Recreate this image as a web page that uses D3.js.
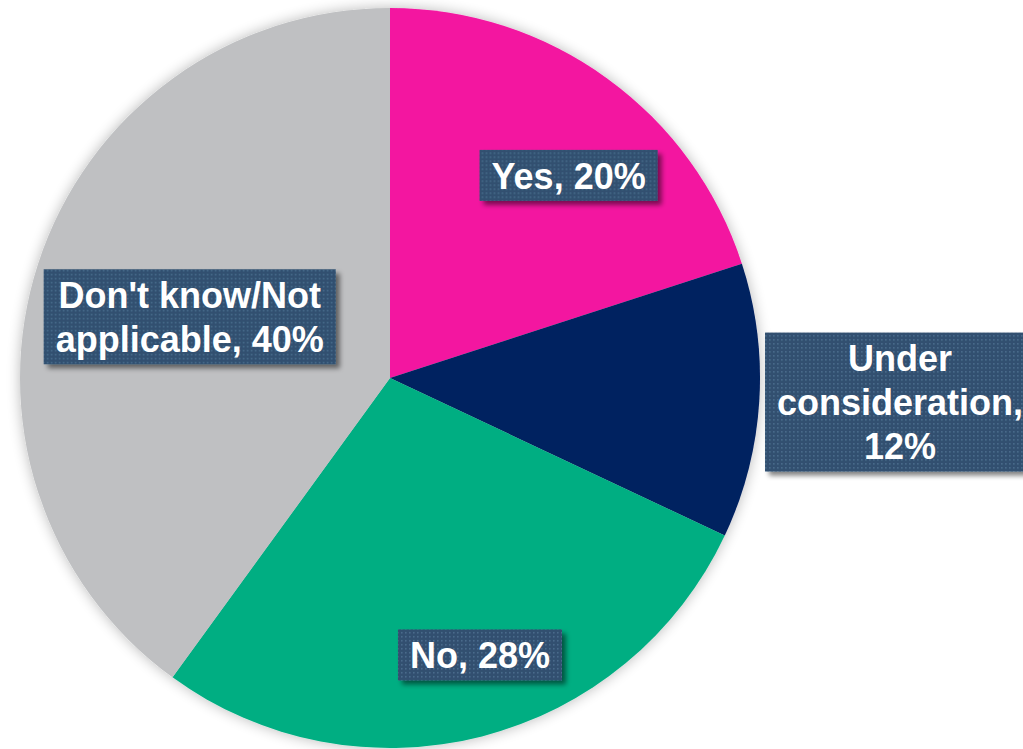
<!DOCTYPE html>
<html>
<head>
<meta charset="utf-8">
<script src="https://cdn.jsdelivr.net/npm/d3@7"></script>
<style>
html,body{margin:0;padding:0;background:#fff;overflow:hidden;}
svg{display:block;}
</style>
</head>
<body>
<svg id="chart" width="1023" height="749"></svg>
<script>
// Data
const categories = ["Yes", "Under consideration", "No", "Don't know/Not applicable"];
const values = [20, 12, 28, 40];
const labelLines = [["Yes, 20%"], ["Under", "consideration,", "12%"], ["No, 28%"], ["Don't know/Not", "applicable, 40%"]];
const colors = ["#F314A0", "#002060", "#00AE82", "#BFC0C2"];

// Layout config (label placement as polar offsets from pie centre, in units of radius)
const labelPolar = [[41.4, 0.73], [92.7, 1.38], [162, 0.787], [287, 0.566]];

const W = 1023, H = 749;
const cx = 390, cy = 378, R = 370;
const fontSize = 36, lineH = 44;

const svg = d3.select("#chart");
const defs = svg.append("defs");

const pieShadow = defs.append("filter").attr("id", "pieShadow")
  .attr("x", "-10%").attr("y", "-10%").attr("width", "120%").attr("height", "120%");
pieShadow.append("feGaussianBlur").attr("in", "SourceAlpha").attr("stdDeviation", 7).attr("result", "b");
pieShadow.append("feComponentTransfer").attr("in", "b").attr("result", "b2")
  .append("feFuncA").attr("type", "linear").attr("slope", 0.28);
const m1 = pieShadow.append("feMerge");
m1.append("feMergeNode").attr("in", "b2");
m1.append("feMergeNode").attr("in", "SourceGraphic");

const boxShadow = defs.append("filter").attr("id", "boxShadow")
  .attr("x", "-10%").attr("y", "-20%").attr("width", "130%").attr("height", "150%");
boxShadow.append("feGaussianBlur").attr("in", "SourceAlpha").attr("stdDeviation", 2.5).attr("result", "b");
boxShadow.append("feOffset").attr("in", "b").attr("dx", 4).attr("dy", 4).attr("result", "o");
boxShadow.append("feComponentTransfer").attr("in", "o").attr("result", "o2")
  .append("feFuncA").attr("type", "linear").attr("slope", 0.5);
const m2 = boxShadow.append("feMerge");
m2.append("feMergeNode").attr("in", "o2");
m2.append("feMergeNode").attr("in", "SourceGraphic");

const pat = defs.append("pattern").attr("id", "dots").attr("patternUnits", "userSpaceOnUse")
  .attr("width", 4).attr("height", 4);
pat.append("rect").attr("width", 4).attr("height", 4).attr("fill", "#30506F");
pat.append("rect").attr("x", 1).attr("y", 1).attr("width", 1.6).attr("height", 1.6).attr("fill", "#4A6B8C");

const data = categories.map((c, i) => ({ cat: c, value: values[i], lines: labelLines[i], color: colors[i], lp: labelPolar[i] }));

const pie = d3.pie().value(d => d.value).sort(null);
const arc = d3.arc().innerRadius(0).outerRadius(R);
const arcs = pie(data);

const g = svg.append("g").attr("transform", `translate(${cx},${cy})`);
const slices = g.append("g").attr("filter", "url(#pieShadow)");
slices.selectAll("path").data(arcs).enter().append("path")
  .attr("d", arc)
  .attr("fill", d => d.data.color);

const labels = g.append("g");
arcs.forEach(a => {
  const ang = a.data.lp[0] * Math.PI / 180;
  const r = a.data.lp[1] * R;
  const lx = Math.sin(ang) * r, ly = -Math.cos(ang) * r;
  const lg = labels.append("g").attr("transform", `translate(${lx},${ly})`);
  const rect = lg.append("rect").attr("fill", "url(#dots)").attr("filter", "url(#boxShadow)");
  const n = a.data.lines.length;
  const txt = lg.append("text")
    .attr("text-anchor", "middle")
    .attr("font-family", "Liberation Sans, Arial, sans-serif")
    .attr("font-weight", "bold")
    .attr("font-size", fontSize)
    .attr("fill", "#fff");
  a.data.lines.forEach((l, i) => {
    txt.append("tspan").attr("x", 0).attr("y", (i - (n - 1) / 2) * lineH).attr("dy", "0.37em").text(l);
  });
  let maxW = 0;
  txt.selectAll("tspan").each(function(){ maxW = Math.max(maxW, this.getComputedTextLength()); });
  const bw = maxW + 24, bh = n * lineH + 7;
  rect.attr("x", -bw / 2).attr("y", -bh / 2).attr("width", bw).attr("height", bh);
});
</script>
</body>
</html>
